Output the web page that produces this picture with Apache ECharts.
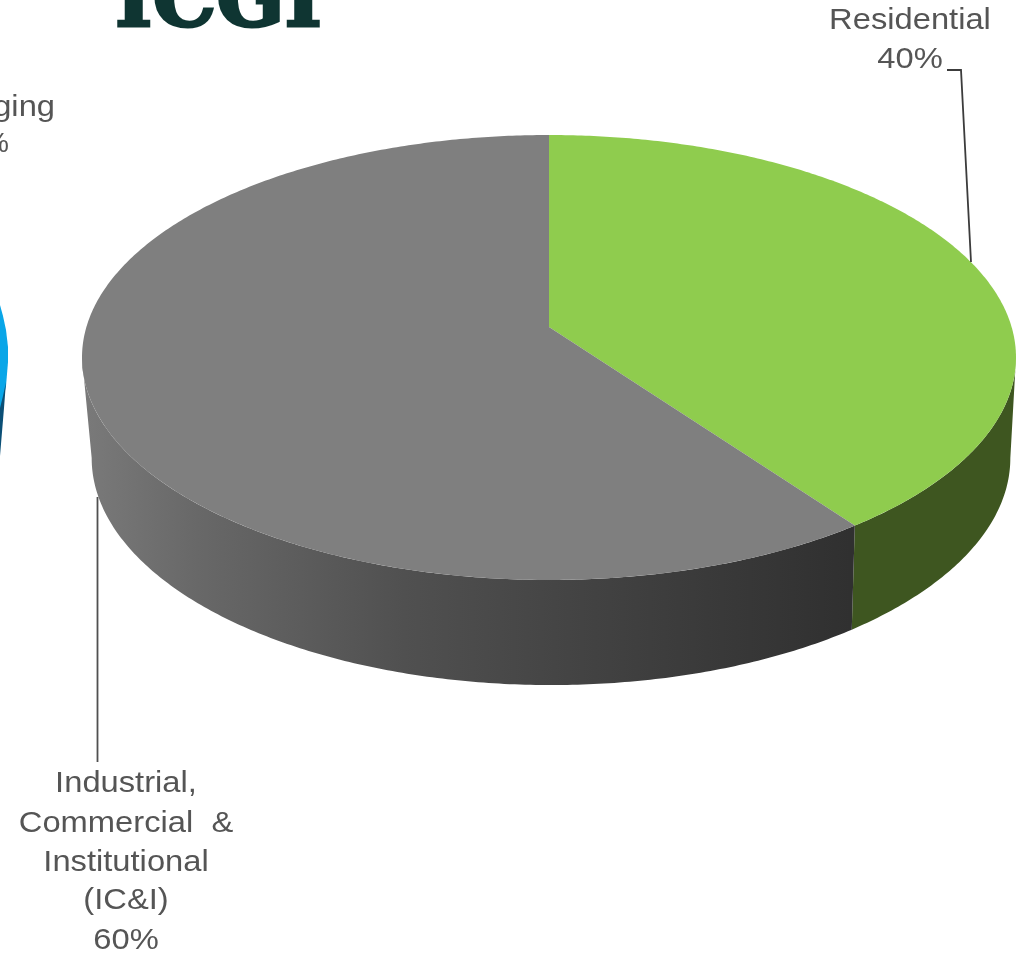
<!DOCTYPE html>
<html>
<head>
<meta charset="utf-8">
<style>html,body{margin:0;padding:0;background:#fff;overflow:hidden}#c{width:1025px;height:955px}</style>
<script src="https://cdn.jsdelivr.net/npm/echarts@6/dist/echarts.min.js"></script>
</head>
<body>
<div id="c"></div>
<script>
const categories = ['Residential', 'Industrial, Commercial & Institutional (IC&I)'];
const values = [40, 60];
const residentialLines = ['Residential', '40%'];
const industrialLines = ['Industrial,', 'Commercial  &', 'Institutional', '(IC&I)', '60%'];
const croppedLines = ['ging', '%'];
const logoText = 'ICGI';

const faceColors = ['#8fcc4e', '#7f7f7f'];
const total = values.reduce((a, b) => a + b, 0);
const TOP = { cx: 549, cy: 327, a: 462.6, b: 218.3, k: -0.137 };
const BOT = { cx: 551, cy: 427, a: 455, b: 222.7, k: -0.137 };
const SILHOUETTE = Math.acos(TOP.k);

function ring(g, t) {
  const u = Math.sin(t), v = -Math.cos(t), d = 1 + g.k * v;
  return [g.cx + g.a * u / d, g.cy + g.b * v / d];
}
function arc(g, t0, t1) {
  const n = Math.max(2, Math.ceil(Math.abs(t1 - t0) / 0.01)), pts = [];
  for (let i = 0; i <= n; i++) pts.push(ring(g, t0 + (t1 - t0) * i / n));
  return pts;
}
const grayWall = {
  type: 'linear', x: 82, y: 0, x2: 850, y2: 0, global: true,
  colorStops: [
    { offset: 0, color: '#7a7a7a' }, { offset: 0.15, color: '#686868' },
    { offset: 0.42, color: '#505050' }, { offset: 0.74, color: '#3e3e3e' },
    { offset: 1, color: '#303030' }
  ]
};
const wallFills = ['#3e5620', grayWall];

function renderSlice(params, api) {
  const i = params.dataIndex;
  let before = 0;
  for (let j = 0; j < i; j++) before += values[j];
  const t0 = before / total * 2 * Math.PI;
  const t1 = (before + api.value(0)) / total * 2 * Math.PI;
  const w0 = Math.max(t0, SILHOUETTE), w1 = Math.min(t1, 2 * Math.PI - SILHOUETTE);
  return {
    type: 'group',
    children: [
      { type: 'polygon', z2: 1,
        shape: { points: arc(TOP, w0, w1).concat(arc(BOT, w1, w0)) },
        style: { fill: wallFills[i] } },
      { type: 'polygon', z2: 2,
        shape: { points: [[TOP.cx, TOP.cy]].concat(arc(TOP, t0, t1)) },
        style: { fill: faceColors[i] } }
    ]
  };
}

const LABEL_FONT = '30px "Liberation Sans"';
function lbl(text, x, y) {
  return { type: 'text', x: x, y: y, scaleX: 1.09, z: 10,
    style: { text: text, fill: '#555555', font: LABEL_FONT, textAlign: 'center', textVerticalAlign: 'middle' } };
}
const labelEls = [];
const resY = [21, 60];
residentialLines.forEach((s, i) => labelEls.push(lbl(s, 910, resY[i])));
const indY = [784, 824, 863, 901, 941];
industrialLines.forEach((s, i) => labelEls.push(lbl(s, 126, indY[i])));
labelEls.push({ type: 'text', x: 55, y: 108, scaleX: 1.09, z: 10,
  style: { text: croppedLines[0], fill: '#555555', font: LABEL_FONT, textAlign: 'right', textVerticalAlign: 'middle' } });
labelEls.push({ type: 'text', x: 9, y: 144, z: 10,
  style: { text: croppedLines[1], fill: '#555555', font: '28px "Liberation Sans"', textAlign: 'right', textVerticalAlign: 'middle' } });

const graphic = labelEls.concat([
  { type: 'polyline', z: 9, shape: { points: [[947, 70], [961, 70], [971, 262]] },
    style: { stroke: '#3c3c3c', lineWidth: 1.8, fill: null } },
  { type: 'line', z: 9, shape: { x1: 97.5, y1: 497, x2: 97.5, y2: 762 },
    style: { stroke: '#505050', lineWidth: 1.8 } },
  { type: 'text', x: 218.5, y: 45, z: 10,
    style: { text: logoText, fill: '#0f3532', stroke: '#0f3532', lineWidth: 3, lineJoin: 'round',
      font: 'bold 80px "DejaVu Serif"', textAlign: 'center', textVerticalAlign: 'bottom' } },
  { type: 'polygon', z: 5, shape: { points: [[0, 305], [3, 316], [6, 330], [8, 347], [8, 362], [6, 386], [3, 400], [0, 412]] },
    style: { fill: '#09a6e8' } },
  { type: 'polygon', z: 6, shape: { points: [[6, 382], [4, 408], [2, 432], [0, 456], [0, 408], [3, 396]] },
    style: { fill: '#0b4f76' } }
]);

const chart = echarts.init(document.getElementById('c'), null, { renderer: 'canvas', width: 1025, height: 955 });
chart.setOption({
  animation: false,
  backgroundColor: '#ffffff',
  graphic: graphic,
  series: [{
    type: 'custom',
    coordinateSystem: 'none',
    silent: true,
    renderItem: renderSlice,
    data: values.map((v, i) => ({ name: categories[i], value: [v] }))
  }]
});
</script>
</body>
</html>
